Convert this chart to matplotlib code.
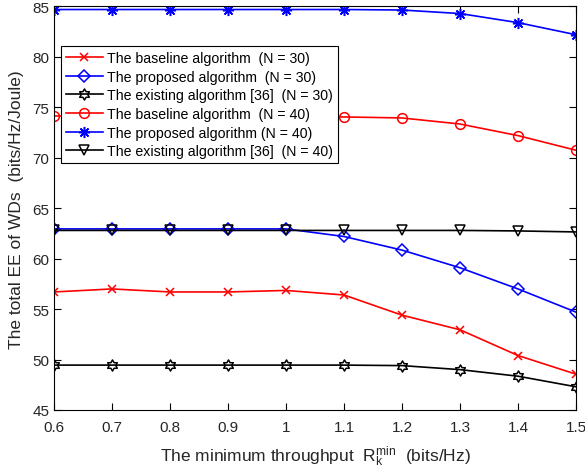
import matplotlib
matplotlib.use('Agg')
import matplotlib.pyplot as plt
from matplotlib.path import Path
import numpy as np

plt.rcParams['font.family'] = ['Liberation Sans', 'DejaVu Sans']
plt.rcParams['mathtext.fontset'] = 'custom'
plt.rcParams['mathtext.rm'] = 'Liberation Sans'
plt.rcParams['mathtext.it'] = 'Liberation Sans'

# data
rmin = [0.6, 0.7, 0.8, 0.9, 1.0, 1.1, 1.2, 1.3, 1.4, 1.5]

base_30 = [56.7, 57.0, 56.7, 56.7, 56.85, 56.4, 54.4, 52.95, 50.4, 48.55]
prop_30 = [62.95, 62.95, 62.95, 62.95, 62.95, 62.2, 60.85, 59.1, 57.0, 54.7]
exist_30 = [49.45, 49.45, 49.45, 49.45, 49.45, 49.45, 49.4, 49.0, 48.35, 47.3]
base_40 = [74.15, 74.1, 74.1, 74.1, 74.1, 74.05, 73.95, 73.35, 72.2, 70.75]
prop_40 = [84.7, 84.7, 84.7, 84.7, 84.7, 84.7, 84.65, 84.3, 83.4, 82.2]
exist_40 = [62.8, 62.8, 62.8, 62.8, 62.8, 62.8, 62.8, 62.8, 62.75, 62.65]

labels = ['The baseline algorithm  (N = 30)',
          'The proposed algorithm  (N = 30)',
          'The existing algorithm [36]  (N = 30)',
          'The baseline algorithm  (N = 40)',
          'The proposed algorithm (N = 40)',
          'The existing algorithm [36]  (N = 40)']

# matlab style hexagram (six pointed star) marker
ang = np.pi / 2 + np.arange(13) * np.pi / 6
rad = np.where(np.arange(13) % 2 == 0, 1.0, 1 / np.sqrt(3))
hexagram = Path(np.column_stack([rad * np.cos(ang), rad * np.sin(ang)]), closed=True)

fig = plt.figure(figsize=(5.85, 4.77), dpi=100)
ax = fig.add_axes([0.0923, 0.1384, 0.8923, 0.8459])

kw = dict(linewidth=1.2, markerfacecolor='none', markeredgewidth=1.1)
ax.plot(rmin, base_30, color='red', marker='x', markersize=6, label=labels[0], **kw)
ax.plot(rmin, prop_30, color='blue', marker='D', markersize=6.5, label=labels[1], **kw)
ax.plot(rmin, exist_30, color='black', marker=hexagram, markersize=8, label=labels[2], **kw)
ax.plot(rmin, base_40, color='red', marker='o', markersize=7, label=labels[3], **kw)
ax.plot(rmin, prop_40, color='blue', marker=(8, 2, 0), markersize=8, label=labels[4], **kw)
ax.plot(rmin, exist_40, color='black', marker='v', markersize=7, label=labels[5], **kw)

ax.set_xlim(0.6, 1.5)
ax.set_ylim(45, 85)
ax.set_xticks(rmin)
ax.set_xticklabels(['0.6', '0.7', '0.8', '0.9', '1', '1.1', '1.2', '1.3', '1.4', '1.5'])
ax.set_yticks(np.arange(45, 86, 5))
ax.tick_params(direction='in', top=True, right=True, length=5, labelsize=11,
               colors='black', labelcolor='#262626')
ax.tick_params(axis='x', pad=7)

ax.set_xlabel(r'The minimum throughput  $\mathregular{R_k^{min}}$  (bits/Hz)', fontsize=12.5,
              color='#262626', labelpad=7)
ax.set_ylabel('The total EE of WDs  (bits/Hz/Joule)', fontsize=12.5, color='#262626', labelpad=6)

leg = ax.legend(loc='upper left', bbox_to_anchor=(0.0134, 0.902), fontsize=10.2,
                handlelength=2.6, borderpad=0.35, labelspacing=0.33, handletextpad=0.3,
                borderaxespad=0.0, fancybox=False, framealpha=1, edgecolor='black')
leg.get_frame().set_linewidth(0.8)

fig.savefig('out.png', dpi=100)
